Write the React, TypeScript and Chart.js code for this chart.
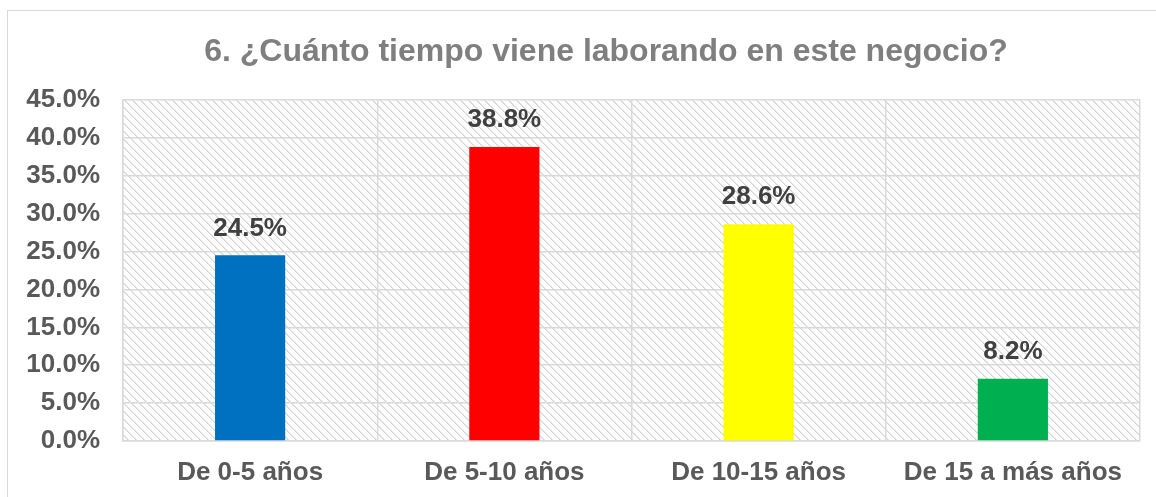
import React, { useEffect, useRef } from "react";
import { Chart, registerables } from "chart.js";

Chart.register(...registerables);

const TITLE = "6. ¿Cuánto tiempo viene laborando en este negocio?";
const categories = ["De 0-5 años", "De 5-10 años", "De 10-15 años", "De 15 a más años"];
const values = [24.5, 38.8, 28.6, 8.2];
const barColors = ["#0070C0", "#FF0000", "#FFFF00", "#00B050"];
const yMax = 45;
const yStep = 5;

const FONT = "'Liberation Sans', Arial, sans-serif";

function makePattern(ctx: CanvasRenderingContext2D) {
  const c = document.createElement("canvas");
  c.width = 8;
  c.height = 8;
  const p = c.getContext("2d")!;
  p.fillStyle = "#ffffff";
  p.fillRect(0, 0, 8, 8);
  for (let y = 0; y < 8; y++) {
    for (let x = 0; x < 8; x++) {
      const d = (((x - y) % 8) + 8) % 8;
      if (d === 0) {
        p.fillStyle = "#d4d4d4";
        p.fillRect(x, y, 1, 1);
      } else if (d === 1) {
        p.fillStyle = "#e6e6e6";
        p.fillRect(x, y, 1, 1);
      }
    }
  }
  return ctx.createPattern(c, "repeat");
}

export default function App() {
  const ref = useRef<HTMLCanvasElement>(null);
  useEffect(() => {
    const canvas = ref.current!;
    const framePlugin = {
      id: "frameAndBg",
      beforeDraw(chart: any) {
        const ctx = chart.ctx as CanvasRenderingContext2D;
        ctx.save();
        ctx.fillStyle = "#ffffff";
        ctx.fillRect(0, 0, chart.width, chart.height);
        ctx.strokeStyle = "#d9d9d9";
        ctx.lineWidth = 1;
        ctx.strokeRect(7.5, 10.5, 1300, 600);
        const a = chart.chartArea;
        const pat = makePattern(ctx);
        if (pat) {
          ctx.fillStyle = pat;
          ctx.fillRect(a.left, a.top, a.right - a.left, a.bottom - a.top);
        }
        ctx.fillStyle = "#7f7f7f";
        ctx.font = `bold 32px ${FONT}`;
        ctx.textAlign = "center";
        ctx.textBaseline = "middle";
        ctx.fillText(TITLE, 606, 52);
        ctx.restore();
      },
    };
    const labelPlugin = {
      id: "barLabels",
      afterDatasetsDraw(chart: any) {
        const ctx = chart.ctx as CanvasRenderingContext2D;
        const meta = chart.getDatasetMeta(0);
        ctx.save();
        ctx.fillStyle = "#404040";
        ctx.font = `bold 26px ${FONT}`;
        ctx.textAlign = "center";
        ctx.textBaseline = "middle";
        meta.data.forEach((el: any, i: number) => {
          ctx.fillText(values[i].toFixed(1) + "%", el.x, el.y - 27);
        });
        ctx.restore();
      },
    };
    const chart = new Chart(canvas, {
      type: "bar",
      data: {
        labels: categories,
        datasets: [
          {
            data: values,
            backgroundColor: barColors,
            borderWidth: 0,
            categoryPercentage: 1,
            barPercentage: 0.276,
          },
        ],
      },
      options: {
        animation: false,
        responsive: false,
        maintainAspectRatio: false,
        devicePixelRatio: 1,
        layout: { padding: { top: 100, right: 16, left: 0, bottom: 0 } },
        plugins: {
          legend: { display: false },
          tooltip: { enabled: false },
          title: { display: false },
        },
        scales: {
          x: {
            grid: { display: true, color: "#d9d9d9", lineWidth: 1.5, drawTicks: false, offset: true },
            border: { display: true, color: "#d9d9d9", width: 1.5 },
            ticks: {
              color: "#595959",
              font: { family: FONT, size: 26, weight: "bold" },
              padding: 16,
              maxRotation: 0,
              autoSkip: false,
            },
            afterFit(scale: any) {
              scale.height = 56;
            },
          },
          y: {
            min: 0,
            max: yMax,
            grid: { color: "#d9d9d9", lineWidth: 1.5, drawTicks: false },
            border: { display: true, color: "#d9d9d9", width: 1.5 },
            ticks: {
              stepSize: yStep,
              color: "#595959",
              font: { family: FONT, size: 26, weight: "bold" },
              padding: 23,
              callback: (v: any) => Number(v).toFixed(1) + "%",
            },
            afterFit(scale: any) {
              scale.width = 123;
            },
          },
        },
      },
      plugins: [framePlugin, labelPlugin],
    } as any);
    return () => chart.destroy();
  }, []);
  return (
    <div style={{ position: "absolute", left: 0, top: 0, width: 1156, height: 497, background: "#fff" }}>
      <canvas ref={ref} width={1156} height={497} style={{ display: "block", width: 1156, height: 497 }} />
    </div>
  );
}
